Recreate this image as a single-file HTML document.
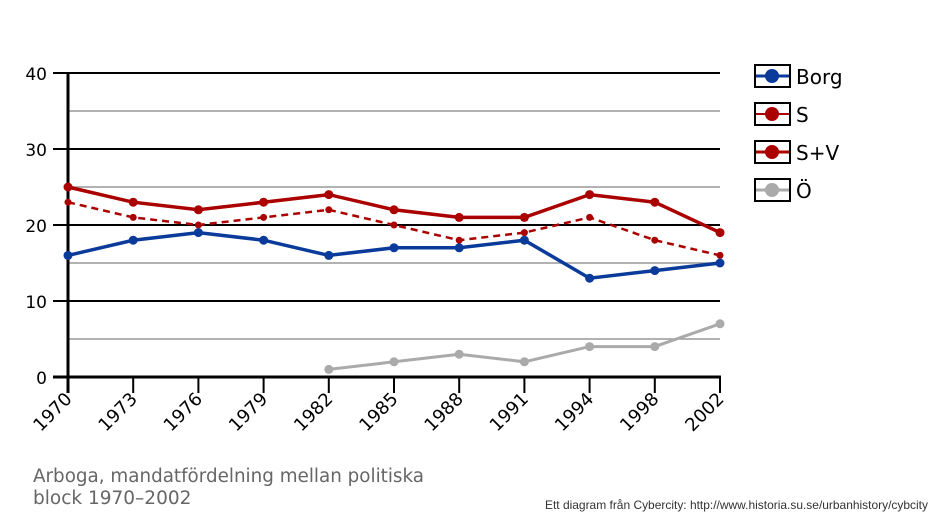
<!DOCTYPE html>
<html><head><meta charset="utf-8"><style>body{margin:0;background:#fff}svg{display:block}</style></head><body>
<svg width="938" height="521" viewBox="0 0 938 521" xmlns="http://www.w3.org/2000/svg" font-family="DejaVu Sans, Liberation Sans, sans-serif">
<g stroke="#999" stroke-width="1.5">
<line x1="68" x2="720" y1="111" y2="111"/><line x1="68" x2="720" y1="187" y2="187"/><line x1="68" x2="720" y1="263" y2="263"/><line x1="68" x2="720" y1="339" y2="339"/>
</g>
<g stroke="#000" stroke-width="2">
<line x1="53" x2="720" y1="73" y2="73"/><line x1="53" x2="720" y1="149" y2="149"/><line x1="53" x2="720" y1="225" y2="225"/><line x1="53" x2="720" y1="301" y2="301"/>
</g>
<line x1="53" x2="721" y1="377" y2="377" stroke="#000" stroke-width="3"/>
<line x1="68" x2="68" y1="73" y2="393" stroke="#000" stroke-width="3"/>
<g stroke="#000" stroke-width="2" id="ticks"></g>
<g font-size="17" text-anchor="end" fill="#000">
<text x="47" y="80">40</text><text x="47" y="156">30</text><text x="47" y="232">20</text><text x="47" y="308">10</text><text x="47" y="384">0</text>
</g>
<g id="xl" font-size="18" fill="#000"></g>
<g id="series"></g>
<g stroke="#000" stroke-width="2" fill="#fff">
<rect x="755" y="65" width="35" height="22"/><rect x="755" y="103" width="35" height="22"/><rect x="755" y="141" width="35" height="22"/><rect x="755" y="179" width="35" height="22"/>
</g>
<line x1="756" x2="789" y1="76" y2="76" stroke="#0a3a9a" stroke-width="3"/><circle cx="772" cy="76" r="7" fill="#0a3a9a"/>
<line x1="756" x2="789" y1="114" y2="114" stroke="#a00" stroke-width="2"/><circle cx="772" cy="114" r="7" fill="#a00"/>
<line x1="756" x2="789" y1="152" y2="152" stroke="#a00" stroke-width="3"/><circle cx="772" cy="152" r="7" fill="#a00"/>
<line x1="756" x2="789" y1="190" y2="190" stroke="#aaa" stroke-width="3"/><circle cx="772" cy="190" r="7" fill="#aaa"/>
<g font-size="20" fill="#000">
<text x="796" y="84">Borg</text><text x="796" y="122">S</text><text x="796" y="160">S+V</text><text x="796" y="198">Ö</text>
</g>
<g font-size="18.5" fill="#666"><text x="33" y="482" textLength="391" lengthAdjust="spacingAndGlyphs">Arboga, mandatfördelning mellan politiska</text><text x="33" y="504">block 1970–2002</text></g>
<text x="928" y="509" font-size="12" fill="#333" text-anchor="end" font-family="Liberation Sans, sans-serif" textLength="383" lengthAdjust="spacingAndGlyphs">Ett diagram från Cybercity: http://www.historia.su.se/urbanhistory/cybcity</text>
</svg>
<script>
const ns="http://www.w3.org/2000/svg",X=i=>68+i*65.2,Y=v=>377-7.6*v;
const yrs=[1970,1973,1976,1979,1982,1985,1988,1991,1994,1998,2002];
const t=document.getElementById('ticks'),xl=document.getElementById('xl'),s=document.getElementById('series');
yrs.forEach((y,i)=>{let l=document.createElementNS(ns,'line');l.setAttribute('x1',X(i));l.setAttribute('x2',X(i));l.setAttribute('y1',377);l.setAttribute('y2',393);t.appendChild(l);
let tx=document.createElementNS(ns,'text');tx.setAttribute('text-anchor','end');tx.setAttribute('transform',`translate(${X(i)+5},${400}) rotate(-45)`);tx.textContent=y;xl.appendChild(tx);});
function ser(d,st,c,w,r,dash,off=0){let p=d.map((v,i)=>X(i+off)+','+Y(v)).join(' ');let pl=document.createElementNS(ns,'polyline');pl.setAttribute('points',p);pl.setAttribute('fill','none');pl.setAttribute('stroke',c);pl.setAttribute('stroke-width',w);if(dash)pl.setAttribute('stroke-dasharray',dash);s.appendChild(pl);
d.forEach((v,i)=>{let ci=document.createElementNS(ns,'circle');ci.setAttribute('cx',X(i+off));ci.setAttribute('cy',Y(v));ci.setAttribute('r',r);ci.setAttribute('fill',c);s.appendChild(ci);});}
ser([1,2,3,2,4,4,7],0,'#aaa',3,4.5,null,4);
ser([23,21,20,21,22,20,18,19,21,18,16],0,'#a00',2.5,3.5,'7,5');
ser([25,23,22,23,24,22,21,21,24,23,19],0,'#a00',3.5,4.5);
ser([16,18,19,18,16,17,17,18,13,14,15],0,'#0a3a9a',3.5,4.5);
</script>
</body></html>
